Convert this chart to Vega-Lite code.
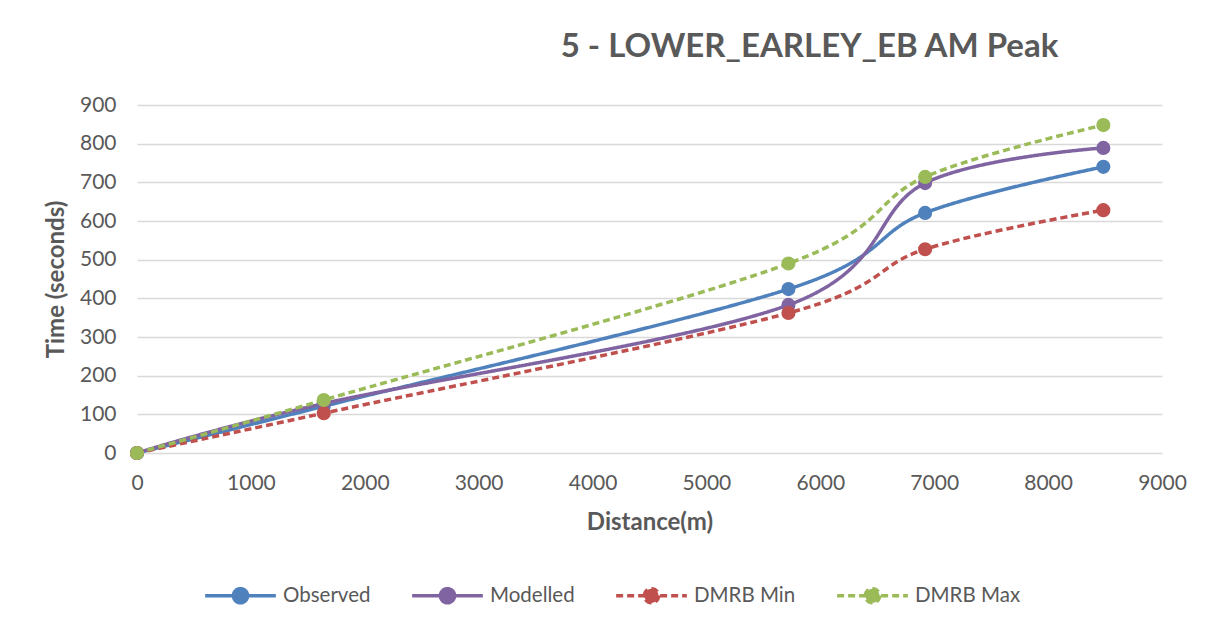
{
  "$schema": "https://vega.github.io/schema/vega-lite/v6.json",
  "width": 1025,
  "height": 348,
  "autosize": {"type": "none"},
  "padding": {"left": 137, "top": 105, "right": 49, "bottom": 177},
  "background": "white",
  "config": {"view": {"stroke": null}},
  "title": {
    "text": "5 - LOWER_EARLEY_EB AM Peak",
    "anchor": "middle",
    "dx": 160,
    "offset": 30,
    "font": "Lato",
    "fontSize": 33,
    "fontWeight": "bold",
    "color": "#595959"
  },
  "data": {
    "values": [
      {"series": "Observed", "distance": 0, "time": 0},
      {"series": "Observed", "distance": 1640, "time": 121},
      {"series": "Observed", "distance": 5720, "time": 424},
      {"series": "Observed", "distance": 6920, "time": 621},
      {"series": "Observed", "distance": 8485, "time": 740},
      {"series": "Modelled", "distance": 0, "time": 0},
      {"series": "Modelled", "distance": 1640, "time": 128},
      {"series": "Modelled", "distance": 5720, "time": 383},
      {"series": "Modelled", "distance": 6920, "time": 698},
      {"series": "Modelled", "distance": 8485, "time": 789},
      {"series": "DMRB Min", "distance": 0, "time": 0},
      {"series": "DMRB Min", "distance": 1640, "time": 103},
      {"series": "DMRB Min", "distance": 5720, "time": 362},
      {"series": "DMRB Min", "distance": 6920, "time": 527},
      {"series": "DMRB Min", "distance": 8485, "time": 628},
      {"series": "DMRB Max", "distance": 0, "time": 0},
      {"series": "DMRB Max", "distance": 1640, "time": 137},
      {"series": "DMRB Max", "distance": 5720, "time": 490},
      {"series": "DMRB Max", "distance": 6920, "time": 714},
      {"series": "DMRB Max", "distance": 8485, "time": 848}
    ]
  },
  "encoding": {
    "x": {
      "field": "distance",
      "type": "quantitative",
      "scale": {"domain": [0, 9000], "nice": false},
      "axis": {
        "values": [0, 1000, 2000, 3000, 4000, 5000, 6000, 7000, 8000, 9000],
        "format": "d",
        "labelFlush": false,
        "labelOverlap": false,
        "grid": false,
        "domain": false,
        "ticks": false,
        "labelFont": "Lato",
        "labelFontSize": 21,
        "labelColor": "#595959",
        "labelPadding": 19,
        "title": "Distance(m)",
        "titleFont": "Lato",
        "titleFontSize": 24,
        "titleFontWeight": "bold",
        "titleColor": "#595959",
        "titlePadding": 17
      }
    },
    "y": {
      "field": "time",
      "type": "quantitative",
      "scale": {"domain": [0, 900], "nice": false},
      "axis": {
        "values": [0, 100, 200, 300, 400, 500, 600, 700, 800, 900],
        "format": "d",
        "labelFlush": false,
        "labelOverlap": false,
        "grid": true,
        "gridColor": "#d9d9d9",
        "gridWidth": 1.3,
        "domain": false,
        "ticks": false,
        "labelFont": "Lato",
        "labelFontSize": 21,
        "labelColor": "#595959",
        "labelPadding": 21,
        "title": "Time (seconds)",
        "titleFont": "Lato",
        "titleFontSize": 24,
        "titleFontWeight": "bold",
        "titleColor": "#595959",
        "titlePadding": 11
      }
    },
    "color": {
      "field": "series",
      "type": "nominal",
      "scale": {
        "domain": ["Observed", "Modelled", "DMRB Min", "DMRB Max"],
        "range": ["#4f81bd", "#8064a2", "#c0504d", "#9bbb59"]
      },
      "legend": {
        "orient": "none",
        "legendX": 66,
        "legendY": 453,
        "direction": "horizontal",
        "title": null,
        "padding": 0,
        "symbolType": "M-1,0H1M0.2,0A0.2,0.2 0 1 1 -0.2,0A0.2,0.2 0 1 1 0.2,0",
        "symbolSize": 5000,
        "symbolStrokeWidth": 3,
        "labelFont": "Lato",
        "labelFontSize": 20.5,
        "labelColor": "#595959",
        "labelOffset": 5,
        "columnPadding": 34,
        "encode": {
          "symbols": {
            "update": {
              "fill": {"scale": "color", "field": "value"},
              "fillOpacity": {"value": 1},
              "opacity": {"value": 1}
            }
          }
        }
      }
    }
  },
  "layer": [
    {
      "mark": {"type": "line", "interpolate": "cardinal"},
      "encoding": {
        "strokeDash": {
          "field": "series",
          "type": "nominal",
          "scale": {
            "domain": ["Observed", "Modelled", "DMRB Min", "DMRB Max"],
            "range": [[1, 0], [1, 0], [7, 4], [7, 4]]
          },
          "legend": {
            "orient": "none",
            "legendX": 66,
            "legendY": 453,
            "direction": "horizontal",
            "title": null
          }
        },
        "strokeWidth": {
          "field": "series",
          "type": "nominal",
          "scale": {
            "domain": ["Observed", "Modelled", "DMRB Min", "DMRB Max"],
            "range": [3.5, 3.5, 2.5, 2.5]
          },
          "legend": null
        }
      }
    },
    {
      "mark": {"type": "point", "filled": true, "size": 200, "opacity": 1}
    }
  ]
}
